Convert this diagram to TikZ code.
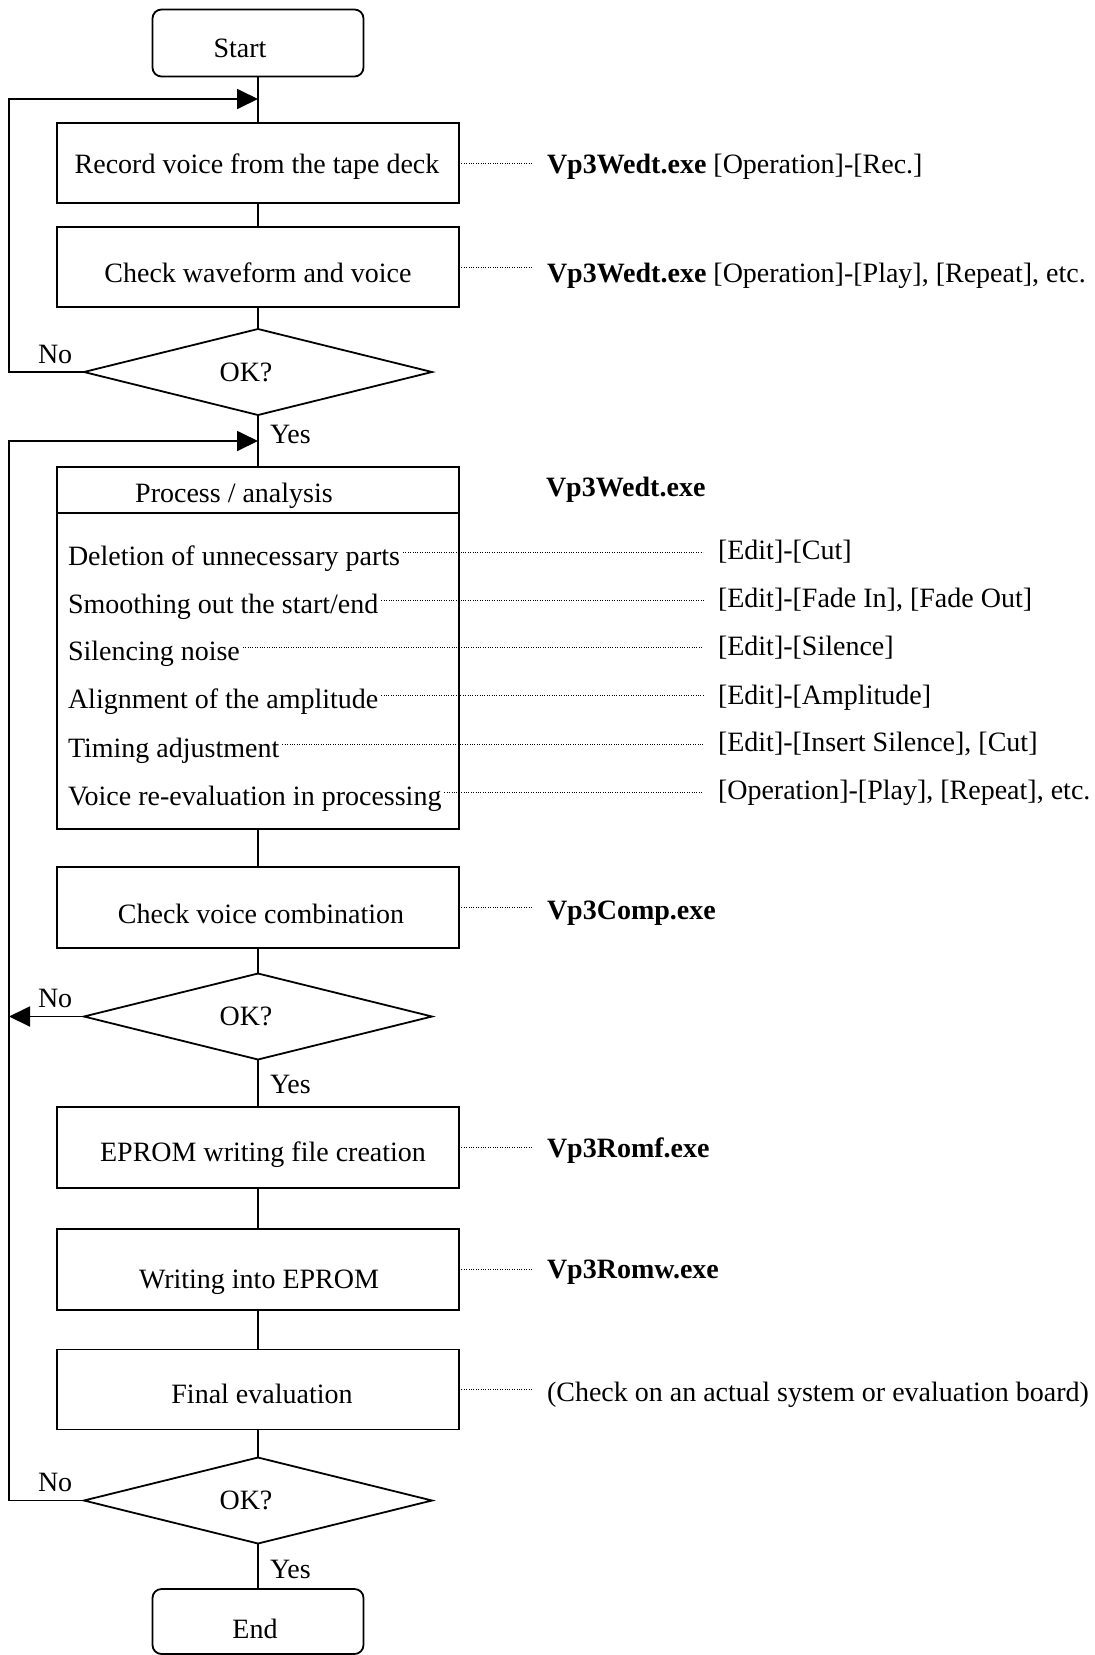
\documentclass[tikz,border=0pt]{standalone}
\usepackage{fontspec}
\setmainfont{Liberation Serif}
\usetikzlibrary{shapes.geometric,arrows.meta}
\begin{document}
\begin{tikzpicture}[x=1pt,y=-1pt,
  every node/.style={font=\fontsize{28}{34}\selectfont, inner sep=0pt, outer sep=0pt},
  box/.style={draw, line width=1.8pt, minimum width=402pt, minimum height=80pt},
  term/.style={draw, line width=1.8pt, rounded corners=9pt, minimum width=211pt, minimum height=67pt},
  dec/.style={draw, line width=1.8pt, diamond, minimum width=348pt, minimum height=86pt},
  flow/.style={line width=1.8pt},
  arr/.style={line width=1.8pt, -{Triangle[length=21pt,width=20pt]}},
  dots/.style={line width=0.9pt, dash pattern=on 0.9pt off 1.5pt},
  txt/.style={anchor=base},
  rtxt/.style={anchor=base west, inner xsep=15pt},
  item/.style={anchor=base west, inner xsep=3pt},
  yn/.style={anchor=base west},
]
\useasboundingbox (0,0) rectangle (1095,1655);

% flow boxes
\node[term] (start) at (258,43) {};
\node[txt] (tstart) at (240,57) {Start};
\node[box] (rec) at (258,163) {};
\node[txt] (trec) at (257,173) {Record voice from the tape deck};
\node[box] (chk) at (258,267) {};
\node[txt] (tchk) at (258,282) {Check waveform and voice};
\node[dec] (d1) at (258,372) {};
\node[txt] (tok1) at (246,381) {OK?};
\node[box, minimum height=362pt] (proc) at (258,648) {};
\node[txt] (thdr) at (234,502) {Process / analysis};
\draw[flow] ([yshift=-46pt]proc.north west) -- ([yshift=-46pt]proc.north east);
\node[box, minimum height=81pt] (comb) at (258,907.5) {};
\node[txt] (tcomb) at (261,923) {Check voice combination};
\node[dec] (d2) at (258,1016.5) {};
\node[txt] (tok2) at (246,1025) {OK?};
\node[box, minimum height=81pt] (romf) at (258,1147.5) {};
\node[txt] (tromf) at (263,1161) {EPROM writing file creation};
\node[box, minimum height=81pt] (romw) at (258,1269.5) {};
\node[txt] (tromw) at (259,1288) {Writing into EPROM};
\node[box] (final) at (258,1389.5) {};
\node[txt] (tfinal) at (262,1403) {Final evaluation};
\node[dec] (d3) at (258,1500.5) {};
\node[txt] (tok3) at (246,1509) {OK?};
\node[term, minimum height=65pt] (end) at (258,1621.5) {};
\node[txt] (tend) at (255,1638) {End};

% process items
\node[item] (i1) at (65,565) {Deletion of unnecessary parts};
\node[item] (i2) at (65,613) {Smoothing out the start/end};
\node[item] (i3) at (65,660) {Silencing noise};
\node[item] (i4) at (65,708) {Alignment of the amplitude};
\node[item] (i5) at (65,757) {Timing adjustment};
\node[item] (i6) at (65,805) {Voice re-evaluation in processing};

% right-hand labels
\node[rtxt] (rl1) at (532,173) {\textbf{Vp3Wedt.exe} [Operation]-[Rec.]};
\node[rtxt] (rl2) at (532,282) {\textbf{Vp3Wedt.exe} [Operation]-[Play], [Repeat], etc.};
\node[rtxt] (rh) at (531,496) {\textbf{Vp3Wedt.exe}};
\node[rtxt] (r1) at (703,559) {[Edit]-[Cut]};
\node[rtxt] (r2) at (703,607) {[Edit]-[Fade In], [Fade Out]};
\node[rtxt] (r3) at (703,655) {[Edit]-[Silence]};
\node[rtxt] (r4) at (703,704) {[Edit]-[Amplitude]};
\node[rtxt] (r5) at (703,751) {[Edit]-[Insert Silence], [Cut]};
\node[rtxt] (r6) at (703,799) {[Operation]-[Play], [Repeat], etc.};
\node[rtxt] (rc) at (532,919) {\textbf{Vp3Comp.exe}};
\node[rtxt] (rf) at (532,1157) {\textbf{Vp3Romf.exe}};
\node[rtxt] (rw) at (532,1278) {\textbf{Vp3Romw.exe}};
\node[rtxt] (rfin) at (532,1401) {(Check on an actual system or evaluation board)};

% yes / no labels
\node[yn] (no1) at (38,363) {No};
\node[yn] (yes1) at (270,443) {Yes};
\node[yn] (no2) at (38,1007) {No};
\node[yn] (yes2) at (270,1093) {Yes};
\node[yn] (no3) at (38,1491) {No};
\node[yn] (yes3) at (270,1578) {Yes};

% junctions
\coordinate (j1) at (258,99);
\coordinate (j2) at (258,441);
\coordinate (L1) at (9,372);
\coordinate (L2) at (9,1016.5);
\coordinate (L3) at (9,1500.5);

% main flow
\draw[flow] (start.south) -- (rec.north);
\draw[flow] (rec.south) -- (chk.north);
\draw[flow] (chk.south) -- (d1.north);
\draw[flow] (d1.south) -- (proc.north);
\draw[flow] (proc.south) -- (comb.north);
\draw[flow] (comb.south) -- (d2.north);
\draw[flow] (d2.south) -- (romf.north);
\draw[flow] (romf.south) -- (romw.north);
\draw[flow] (romw.south) -- (final.north);
\draw[flow] (final.south) -- (d3.north);
\draw[flow] (d3.south) -- (end.north);

% loops
\draw[arr] (d1.west) -- (L1) |- (j1);
\draw[arr] (d3.west) -- (L3) |- (j2);
\draw[arr] (d2.west) -- (L2);

% dotted leaders
\draw[dots] (rec.east) -- (rec.east -| rl1.west);
\draw[dots] (chk.east) -- (chk.east -| rl2.west);
\draw[dots] (comb.east) -- (comb.east -| rc.west);
\draw[dots] (romf.east) -- (romf.east -| rf.west);
\draw[dots] (romw.east) -- (romw.east -| rw.west);
\draw[dots] (final.east) -- (final.east -| rfin.west);
\foreach \k in {1,...,6}{
  \coordinate (a\k) at ([yshift=13pt]i\k.base east);
  \draw[dots] (a\k) -- (a\k -| r\k.west);
}
\end{tikzpicture}
\end{document}
